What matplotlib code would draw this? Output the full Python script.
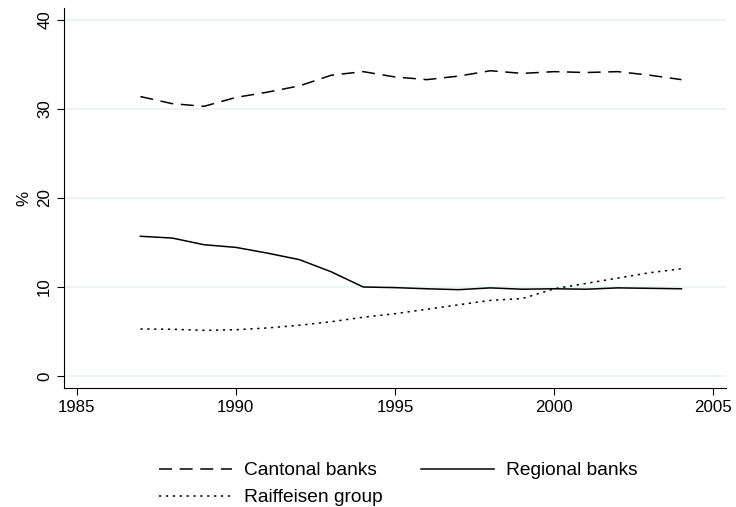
import matplotlib
matplotlib.use("Agg")
import matplotlib.pyplot as plt

plt.rcParams["font.family"] = ["Liberation Sans", "DejaVu Sans"]

years = list(range(1987, 2005))
cantonal = [31.4, 30.6, 30.3, 31.3, 31.9, 32.6, 33.8, 34.2, 33.6, 33.3,
            33.7, 34.3, 34.0, 34.2, 34.1, 34.2, 33.8, 33.3]
regional = [15.7, 15.5, 14.75, 14.45, 13.8, 13.07, 11.7, 10.0, 9.93, 9.8,
            9.7, 9.9, 9.75, 9.8, 9.75, 9.9, 9.85, 9.8]
raiffeisen = [5.28, 5.25, 5.13, 5.2, 5.4, 5.7, 6.1, 6.6, 7.0, 7.5,
              8.0, 8.5, 8.7, 9.8, 10.4, 11.0, 11.6, 12.05]

xticks = [1985, 1990, 1995, 2000, 2005]
yticks = [0, 10, 20, 30, 40]

fig = plt.figure(figsize=(7.36, 5.07), dpi=100)
ax = fig.add_axes([64 / 736, 1 - 388 / 507, (726 - 64) / 736, (388 - 8) / 507])

for y in yticks:
    ax.axhline(y, color="#eaf2f3", lw=1.2, zorder=0)

l1, = ax.plot(years, cantonal, color="black", lw=1.1, dashes=(8.5, 5))
l2, = ax.plot(years, regional, color="black", lw=1.1)
l3, = ax.plot(years, raiffeisen, color="black", lw=1.1, dashes=(1.5, 3))

ax.set_xlim(1984.6, 2005.4)
ax.set_ylim(-1.35, 41.35)
ax.set_xticks(xticks)
ax.set_yticks(yticks)
ax.set_yticklabels([str(v) for v in yticks], rotation=90, va="center")
ax.tick_params(axis="both", labelsize=12.2, length=5, width=0.8, color="black")
ax.set_ylabel("%", fontsize=12.2, labelpad=4)

for side in ("top", "right"):
    ax.spines[side].set_visible(False)
for side in ("left", "bottom"):
    ax.spines[side].set_linewidth(0.8)

# legend below the plot, two columns
fig.legend([l1, l3, l2], ["Cantonal banks", "Raiffeisen group", "Regional banks"],
           ncol=2, loc="center", bbox_to_anchor=(398 / 736, 1 - 484 / 507),
           frameon=False, fontsize=13.8, handlelength=3.84, handletextpad=0.59,
           columnspacing=2.0, labelspacing=0.5)

fig.savefig("out.png", dpi=100)
